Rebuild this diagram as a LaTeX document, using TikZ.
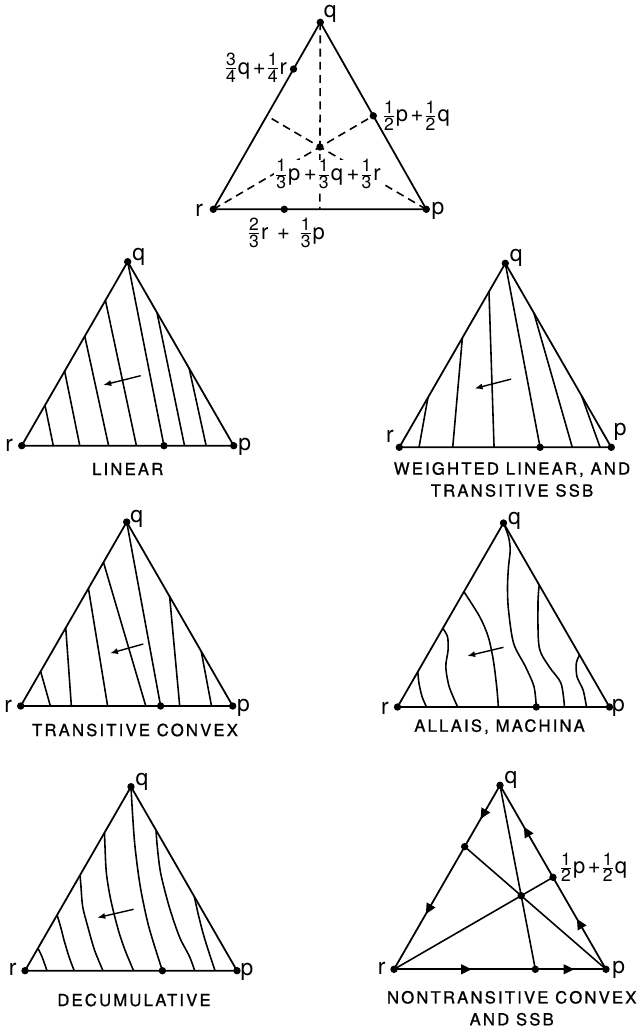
\documentclass[tikz,border=0pt]{standalone}
\usepackage{amsmath}
\usepackage{fontspec}
\setmainfont{TeX Gyre Heros}[LetterSpace=6]
\newfontfamily\labfont{TeX Gyre Heros}[LetterSpace=12]
\newfontfamily\capfont{TeX Gyre Heros}[LetterSpace=13,FakeBold=1]
\usepackage{tikz}
\usetikzlibrary{arrows.meta,calc,decorations.markings}

\newcommand{\fr}[2]{\ensuremath{\genfrac{}{}{0.5pt}{1}{\mbox{\fontsize{10}{11}\selectfont #1}}{\mbox{\fontsize{10}{11}\selectfont #2}}}}

\tikzset{
  rim/.style={line width=1pt},
  indiff/.style={line width=0.9pt},
  dashline/.style={line width=0.9pt, dash pattern=on 4.5pt off 3pt},
  vlab/.style={font=\fontsize{13}{15}\selectfont, inner sep=1pt},
  flab/.style={font=\labfont\fontsize{12.5}{14}\selectfont, inner sep=1pt},
  capt/.style={font=\capfont\fontsize{9.5}{12.5}\selectfont, align=center, inner sep=0pt},
  dirarrow/.style={line width=0.8pt, -{Latex[length=4.5pt,width=3.5pt]}},
  midarrow/.style={postaction={decorate}, decoration={markings,
      mark=at position 0.55 with {\arrow{Triangle[length=6pt,width=5.5pt]}}}},
}

\begin{document}
\begin{tikzpicture}[x=0.02cm, y=-0.02cm]
  \useasboundingbox (0,0) rectangle (638,1032);
  % ---------------- KEY ----------------
  \begin{scope}[shift={(213.3,209.3)}]
    \coordinate (r) at (0,0);
    \coordinate (p) at (213,0);
    \coordinate (q) at (107,-187);
    \coordinate (qr) at ($(q)!0.25!(r)$);
    \coordinate (pq) at ($(q)!0.5!(p)$);
    \coordinate (mqr) at ($(q)!0.5!(r)$);
    \coordinate (mrp) at ($(r)!0.5!(p)$);
    \coordinate (cen) at ($(r)!0.6667!(pq)$);
    \coordinate (rp) at ($(r)!0.3333!(p)$);
    \draw[dashline] (q) -- (mrp) (r) -- (pq) (p) -- (mqr);
    \draw[rim] (r) -- (p) -- (q) -- cycle;
    \fill (r) circle (2.1pt) (p) circle (2.1pt) (q) circle (2.1pt)
      (qr) circle (2.1pt) (pq) circle (2.1pt) (cen) circle (2.1pt) (rp) circle (2.1pt);
    \node[vlab] (kq) at ([shift={(10,-8.7)}]q) {q};
    \node[vlab] (kr) at ([shift={(-14,0.7)}]r) {r};
    \node[vlab] (kp) at ([shift={(11.7,1.4)}]p) {p};
    \node[flab, anchor=east] (kqr) at ([shift={(-4.5,-1)}]qr) {\fr34q+\fr14r};
    \node[flab, anchor=west] (kpq) at ([shift={(6.5,0)}]pq) {\fr12p+\fr12q};
    \node[flab, fill=white, inner sep=0pt] (kcen) at ([shift={(7.5,27.3)}]cen) {\fr13p\,+\fr13q\,+\fr13r};
    \node[flab, anchor=north] (krp) at ([shift={(1.7,7)}]rp) {\fr23r + \fr13p};
  \end{scope}
  % ---------------- LINEAR ----------------
  \begin{scope}[shift={(21.7,445.7)}]
    \coordinate (r) at (0,0);
    \coordinate (p) at (212,0);
    \coordinate (q) at (106,-184);
    \coordinate (s) at ($(r)!0.671!(p)$);
    \draw[rim] (r) -- (p) -- (q) -- cycle;
    \draw[indiff] ($(r)!0.22!(q)$) -- ($(r)!0.149!(p)$)
      ($(r)!0.405!(q)$) -- ($(r)!0.274!(p)$)
      ($(r)!0.595!(q)$) -- ($(r)!0.41!(p)$)
      ($(r)!0.79!(q)$) -- ($(r)!0.541!(p)$)
      (q) -- (s)
      ($(q)!0.276!(p)$) -- ($(r)!0.768!(p)$)
      ($(q)!0.58!(p)$) -- ($(r)!0.87!(p)$);
    \draw[dirarrow] (119,-70) -- (81.6,-60.7);
    \fill (r) circle (2.1pt) (p) circle (2.1pt) (q) circle (2.1pt) (s) circle (2.1pt);
    \node[vlab] (aq) at ([shift={(11,-5)}]q) {q};
    \node[vlab] (ar) at ([shift={(-12.5,0)}]r) {r};
    \node[vlab] (ap) at ([shift={(11,1)}]p) {p};
    \node[capt] (acap) at (106,23.3) {LINEAR};
  \end{scope}
  % ---------------- WEIGHTED LINEAR ----------------
  \begin{scope}[shift={(399.3,447.3)}]
    \coordinate (r) at (0,0);
    \coordinate (p) at (212,0);
    \coordinate (q) at (106,-184);
    \coordinate (s) at ($(r)!0.664!(p)$);
    \draw[rim] (r) -- (p) -- (q) -- cycle;
    \draw[indiff] ($(r)!0.27!(q)$) -- ($(r)!0.093!(p)$)
      ($(r)!0.595!(q)$) -- ($(r)!0.252!(p)$)
      ($(r)!0.846!(q)$) -- ($(r)!0.447!(p)$)
      (q) -- (s)
      ($(q)!0.27!(p)$) -- ($(r)!0.816!(p)$)
      ($(q)!0.72!(p)$) -- ($(r)!0.947!(p)$);
    \draw[dirarrow] (111.8,-68.2) -- (75.4,-58.8);
    \fill (r) circle (2.1pt) (p) circle (2.1pt) (q) circle (2.1pt) (s) circle (2.1pt);
    \node[vlab] (bq) at ([shift={(11,-5.7)}]q) {q};
    \node[vlab] (br) at ([shift={(-9.3,-10.6)}]r) {r};
    \node[vlab] (bp) at ([shift={(9,-15.6)}]p) {p};
    \node[capt] (bcap) at (112.7,32.2) {WEIGHTED LINEAR, AND\\TRANSITIVE SSB};
  \end{scope}
  % ---------------- TRANSITIVE CONVEX ----------------
  \begin{scope}[shift={(20.7,706)}]
    \coordinate (r) at (0,0);
    \coordinate (p) at (212,0);
    \coordinate (q) at (106,-184);
    \coordinate (s) at ($(r)!0.66!(p)$);
    \draw[rim] (r) -- (p) -- (q) -- cycle;
    \draw[indiff] ($(r)!0.188!(q)$) -- ($(r)!0.14!(p)$)
      ($(r)!0.425!(q)$) -- ($(r)!0.239!(p)$)
      ($(r)!0.639!(q)$) -- ($(r)!0.41!(p)$)
      ($(r)!0.781!(q)$) -- ($(r)!0.59!(p)$)
      (q) -- (s)
      ($(q)!0.405!(p)$) -- ($(r)!0.75!(p)$)
      ($(q)!0.703!(p)$) -- ($(r)!0.9!(p)$);
    \draw[dirarrow] (122.6,-62) -- (89.3,-52.7);
    \fill (r) circle (2.1pt) (p) circle (2.1pt) (q) circle (2.1pt) (s) circle (2.1pt);
    \node[vlab] (cq) at ([shift={(10,-3)}]q) {q};
    \node[vlab] (cr) at ([shift={(-12.4,0.5)}]r) {r};
    \node[vlab] (cp) at ([shift={(10.7,2.3)}]p) {p};
    \node[capt] (ccap) at (114.3,24) {TRANSITIVE CONVEX};
  \end{scope}
  % ---------------- ALLAIS ----------------
  \begin{scope}[shift={(397.5,707)}]
    \coordinate (r) at (0,0);
    \coordinate (p) at (212,0);
    \coordinate (q) at (106,-184);
    \coordinate (s) at (138.8,0);
    \draw[rim] (r) -- (p) -- (q) -- cycle;
    \draw[indiff] plot[smooth] coordinates {(20.3,-35.3) (21.5,-23.7) (24.6,-10.3) (29,0)};
    \draw[indiff] plot[smooth] coordinates {(45.3,-78.7) (50,-70.3) (50.6,-57) (48.3,-40.3) (51.7,-20.3) (60.2,0)};
    \draw[indiff] plot[smooth] coordinates {(66.4,-115.3) (82.2,-90.3) (90.7,-70.3) (95.8,-47) (99.2,-20.3) (100.9,0)};
    \draw[indiff] plot[smooth] coordinates {(106,-184) (111,-170.3) (112.7,-157) (111,-140.3) (110,-120.3)
      (111,-97) (116.1,-63.7) (128,-40.3) (136.5,-20.3) (138.8,0)};
    \draw[indiff] plot[smooth] coordinates {(141.7,-122) (140.5,-103.7) (141.6,-60.3) (151.7,-40.3) (163.5,-23.7) (167,0)};
    \draw[indiff] plot[smooth] coordinates {(182,-52) (178.8,-43.7) (179.5,-30.3) (185.6,-17) (189,0)};
    \draw[dirarrow] (106,-59.7) -- (69.7,-51);
    \fill (r) circle (2.1pt) (p) circle (2.1pt) (q) circle (2.1pt) (s) circle (2.1pt);
    \node[vlab] (dq) at ([shift={(11,-2)}]q) {q};
    \node[vlab] (dr) at ([shift={(-12.5,1)}]r) {r};
    \node[vlab] (dp) at ([shift={(9,1)}]p) {p};
    \node[capt] (dcap) at (102,19.7) {ALLAIS, MACHINA};
  \end{scope}
  % ---------------- DECUMULATIVE ----------------
  \begin{scope}[shift={(25,970.7)}]
    \coordinate (r) at (0,0);
    \coordinate (p) at (212,0);
    \coordinate (q) at (106,-184);
    \coordinate (s) at (137.4,0);
    \draw[rim] (r) -- (p) -- (q) -- cycle;
    \draw[indiff] plot[smooth] coordinates {(12.9,-22.4) (17,-14) (22,0)};
    \draw[indiff] plot[smooth] coordinates {(32.1,-55.7) (35.6,-44) (39,-30.7) (44,-14) (49.2,0)};
    \draw[indiff] plot[smooth] coordinates {(55.1,-95.7) (56,-84) (57.7,-64) (62.8,-44) (69.5,-20.7) (78,0)};
    \draw[indiff] plot[smooth] coordinates {(79.5,-138) (80,-124) (81.4,-97.4) (85.8,-70.7) (93.3,-40.7) (100,-20.7) (108.6,0)};
    \draw[indiff] plot[smooth] coordinates {(106,-184) (107.5,-157.4) (110,-124) (115.3,-84) (123.8,-44) (137.4,0)};
    \draw[indiff] plot[smooth] coordinates {(131,-140.7) (132.3,-124) (135.7,-97.4) (144.2,-64) (154.4,-34) (164.6,-14) (169.7,0)};
    \draw[indiff] plot[smooth] coordinates {(169.4,-74) (173,-57.4) (178.1,-37.4) (183.2,-20.7) (190,0)};
    \draw[dirarrow] (108.6,-61.4) -- (72.3,-53);
    \fill (r) circle (2.1pt) (p) circle (2.1pt) (q) circle (2.1pt) (s) circle (2.1pt);
    \node[vlab] (eq) at ([shift={(11,-5)}]q) {q};
    \node[vlab] (er) at ([shift={(-12.3,-1)}]r) {r};
    \node[vlab] (ep) at ([shift={(10,1.5)}]p) {p};
    \node[capt] (ecap) at (109,29.3) {DECUMULATIVE};
  \end{scope}
  % ---------------- NONTRANSITIVE ----------------
  \begin{scope}[shift={(394,969.3)}]
    \coordinate (r) at (0,0);
    \coordinate (p) at (212,0);
    \coordinate (q) at (106,-184);
    \coordinate (rq) at ($(r)!0.6667!(q)$);
    \coordinate (pq) at ($(q)!0.5!(p)$);
    \coordinate (rp) at ($(r)!0.6667!(p)$);
    \coordinate (cen) at ($(rq)!0.4!(p)$);
    \draw[rim, midarrow] (q) -- (rq);
    \draw[rim, midarrow] (rq) -- (r);
    \draw[rim, midarrow] (r) -- (rp);
    \draw[rim, midarrow] (rp) -- (p);
    \draw[rim, midarrow] (p) -- (pq);
    \draw[rim, midarrow] (pq) -- (q);
    \draw[indiff] (r) -- (pq) (rq) -- (p) (q) -- (rp);
    \fill (r) circle (2.1pt) (p) circle (2.1pt) (q) circle (2.1pt)
      (rq) circle (2.1pt) (pq) circle (2.1pt) (rp) circle (2.1pt) (cen) circle (2.1pt);
    \node[vlab] (fq) at ([shift={(11,-5)}]q) {q};
    \node[vlab] (fr) at ([shift={(-12.3,-1)}]r) {r};
    \node[vlab] (fp) at ([shift={(12.7,0.7)}]p) {p};
    \node[flab, anchor=west] (fpq) at ([shift={(4,-10)}]pq) {\fr12p+\fr12q};
    \node[capt] (fcap) at (117.7,39) {NONTRANSITIVE CONVEX\\AND SSB};
  \end{scope}
\end{tikzpicture}
\end{document}
